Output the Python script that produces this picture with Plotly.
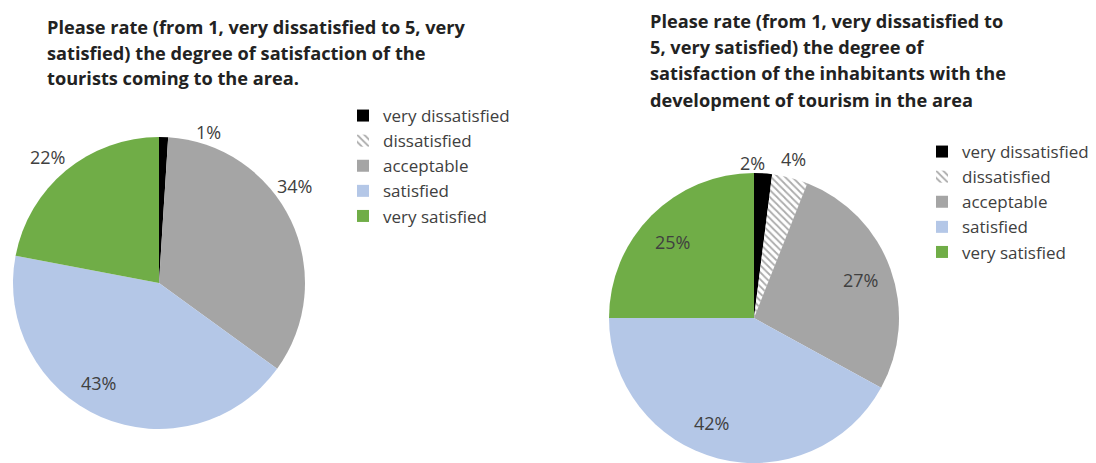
import math
import plotly.graph_objects as go

# Satisfaction categories and slice colours
categories = ["very dissatisfied", "dissatisfied", "acceptable", "satisfied", "very satisfied"]
colors = ["#000000", "#FFFFFF", "#A5A5A5", "#B4C7E7", "#70AD47"]
hatch = ["", "\\", "", "", ""]

# Shares in percent
tourists = [1, 0, 34, 43, 22]
inhabitants = [2, 4, 27, 42, 25]

# Percentage label placement: distance from the centre (in radii) and a small
# angular shift (degrees) away from the middle of each slice
tourists_label_r = [1.09, 0, 1.14, 0.80, 1.15]
tourists_label_shift = [16.5, 0, -10.3, 8.0, -1.8]
inhabitants_label_r = [1.07, 1.13, 0.78, 0.78, 0.77]
inhabitants_label_shift = [-4.3, -0.4, 0.0, 7.6, -2.0]

title_left = ["Please rate (from 1, very dissatisfied to 5, very",
              "satisfied) the degree of satisfaction of the",
              "tourists coming to the area."]
title_right = ["Please rate (from 1, very dissatisfied to",
               "5, very satisfied) the degree of",
               "satisfaction of the inhabitants with the",
               "development of tourism in the area"]

W, H = 1096, 463
FONT = "Open Sans, sans-serif"
TEXT = "#404040"

# Pie domains in pixels: (left, right, top, bottom)
left_box = (13, 305, 137, 429)
right_box = (608, 900, 173, 463)


def to_domain(box):
    l, r, t, b = box
    return dict(x=[l / W, r / W], y=[1 - b / H, 1 - t / H])


def pie(values, box, legend, suffix=""):
    return go.Pie(
        labels=[c + suffix for c in categories],
        values=values,
        textinfo="none",
        sort=False,
        direction="clockwise",
        rotation=0,
        domain=to_domain(box),
        legend=legend,
        marker=dict(
            colors=colors,
            line=dict(width=0),
            pattern=dict(shape=hatch, fgcolor="#ABABAB", bgcolor="#FFFFFF",
                         size=5, solidity=0.35),
        ),
        hoverinfo="label+percent",
    )


def slice_labels(values, box, radii, shifts):
    """Percentage annotations placed around the middle angle of each slice."""
    l, r, t, b = box
    cx, cy = (l + r) / 2, (t + b) / 2
    rad = min(r - l, b - t) / 2
    total = sum(values)
    out = []
    start = 0.0
    for v, k, s in zip(values, radii, shifts):
        mid = (start + v / 2) / total * 360 + s
        start += v
        if v <= 0:
            continue
        a = math.radians(mid)
        px = cx + k * rad * math.sin(a)
        py = cy - k * rad * math.cos(a)
        out.append(dict(
            text=f"{v}%", x=px / W, y=1 - py / H, xref="paper", yref="paper",
            xanchor="center", yanchor="middle", showarrow=False,
            font=dict(family=FONT, size=18, color=TEXT),
        ))
    return out


def title_lines(lines, x, y_first, step):
    font = dict(family=FONT, size=18.2, color="#222222", weight="bold")
    return [dict(text=t, x=x / W, y=1 - (y_first + i * step) / H,
                 xref="paper", yref="paper", xanchor="left", yanchor="middle",
                 align="left", showarrow=False, font=font)
            for i, t in enumerate(lines)]


fig = go.Figure()
fig.add_trace(pie(tourists, left_box, "legend"))
# zero-width space keeps the second pie's legend entries separate from the first
fig.add_trace(pie(inhabitants, right_box, "legend2", suffix="\u200b"))

legend_style = dict(
    font=dict(family=FONT, size=17, color=TEXT),
    xanchor="left", yanchor="top",
    bgcolor="rgba(0,0,0,0)",
    tracegroupgap=0,
    itemwidth=30,
)

annotations = title_lines(title_left, 45, 27, 25.5) + title_lines(title_right, 648, 21, 26.2)
annotations += slice_labels(tourists, left_box, tourists_label_r, tourists_label_shift)
annotations += slice_labels(inhabitants, right_box, inhabitants_label_r, inhabitants_label_shift)

fig.update_layout(
    width=W, height=H,
    margin=dict(l=0, r=0, t=0, b=0),
    paper_bgcolor="white",
    plot_bgcolor="white",
    showlegend=True,
    legend=dict(x=343 / W, y=1 - 98 / H, **legend_style),
    legend2=dict(x=922 / W, y=1 - 134 / H, **legend_style),
    annotations=annotations,
)

fig.write_html("out.html")
